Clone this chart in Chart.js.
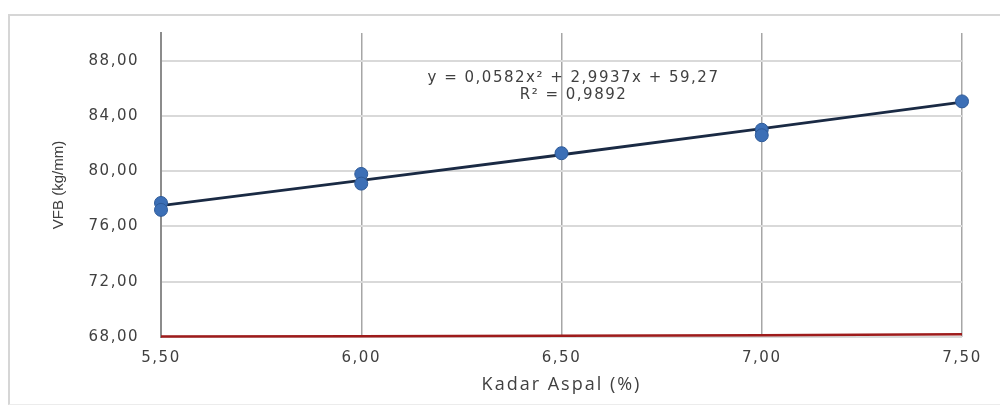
<!DOCTYPE html>
<html>
<head>
<meta charset="utf-8">
<script src="https://cdn.jsdelivr.net/npm/chart.js@4"></script>
<style>
  html, body { margin: 0; padding: 0; background: #fff; }
  #wrap { position: relative; width: 1000px; height: 408px; overflow: hidden; }
  #frame { position: absolute; left: 8px; top: 14px; width: 1010px; height: 388px;
           border-top: 2px solid #d6d6d6; border-left: 2px solid #d6d6d6; border-bottom: 1px solid #ececec; }
  canvas { position: absolute; left: 0; top: 0; }
</style>
</head>
<body>
<div id="wrap">
  <div id="frame"></div>
  <canvas id="c" width="1000" height="408"></canvas>
</div>
<script>
// ---- data ----
const kadarAspal = [5.5, 5.5, 6.0, 6.0, 6.5, 7.0, 7.0, 7.5];
const vfbValues  = [77.7, 77.2, 79.8, 79.1, 81.3, 83.0, 82.6, 85.05];
const trendX     = [5.5, 6.0, 6.5, 7.0, 7.5];
const trendY     = [77.5, 79.33, 81.19, 83.08, 85.0];
const limitX     = [5.5, 6.0, 6.5, 7.0, 7.5];
const limitY     = [68.03, 68.06, 68.09, 68.13, 68.2];
const yTicks     = [68, 72, 76, 80, 84, 88];
const xTicks     = [5.5, 6.0, 6.5, 7.0, 7.5];
const yTitle     = 'VFB (kg/mm)';
const xTitle     = 'Kadar Aspal (%)';
const equationLines = ['y = 0,0582x\u00B2 + 2,9937x + 59,27', 'R\u00B2 = 0,9892'];

const fmt = v => v.toFixed(2).replace('.', ',');

const spacingPlugin = {
  id: 'spacing',
  beforeDraw(chart) { chart.ctx.letterSpacing = '1.5px'; }
};

const textPlugin = {
  id: 'texts',
  afterDatasetsDraw(chart) {
    const { ctx, scales, chartArea } = chart;
    ctx.save();
    ctx.fillStyle = '#404040';
    ctx.textAlign = 'center';
    ctx.textBaseline = 'middle';
    // equation
    ctx.letterSpacing = '1.5px';
    ctx.font = '15px "DejaVu Sans"';
    const ex = scales.x.getPixelForValue(6.5) + 12;
    const ey = scales.y.getPixelForValue(88) + 17;
    ctx.fillText(equationLines[0], ex, ey);
    ctx.fillText(equationLines[1], ex, ey + 17);
    // x title
    ctx.letterSpacing = '2px';
    ctx.font = '18px "Open Sans"';
    ctx.fillText(xTitle, (chartArea.left + chartArea.right) / 2, 385);
    // y title
    ctx.letterSpacing = '0px';
    ctx.font = '15px "Liberation Sans"';
    ctx.translate(59, (chartArea.top + chartArea.bottom) / 2);
    ctx.rotate(-Math.PI / 2);
    ctx.fillText(yTitle, 0, 0);
    ctx.restore();
  }
};

new Chart(document.getElementById('c'), {
  type: 'scatter',
  data: {
    datasets: [
      {
        label: 'VFB',
        data: kadarAspal.map((x, i) => ({ x, y: vfbValues[i] })),
        backgroundColor: '#3c6fb6',
        borderColor: '#2e5a98',
        borderWidth: 1,
        pointRadius: 6.5,
        showLine: false,
        clip: false,
        order: 0
      },
      {
        label: 'Trend',
        data: trendX.map((x, i) => ({ x, y: trendY[i] })),
        borderColor: '#1a2a44',
        borderWidth: 2.8,
        pointRadius: 0,
        showLine: true,
        clip: false,
        order: 1
      },
      {
        label: 'Batas',
        data: limitX.map((x, i) => ({ x, y: limitY[i] })),
        borderColor: '#9e1b1b',
        borderWidth: 2.5,
        pointRadius: 0,
        showLine: true,
        clip: false,
        order: 2
      }
    ]
  },
  options: {
    responsive: false,
    animation: false,
    layout: { padding: { left: 0, right: 38, top: 33, bottom: 0 } },
    plugins: { legend: { display: false }, tooltip: { enabled: false } },
    scales: {
      x: {
        type: 'linear',
        min: 5.5, max: 7.5,
        afterFit(s) { s.height = 71; },
        afterBuildTicks(s) { s.ticks = xTicks.map(v => ({ value: v })); },
        ticks: {
          callback: v => fmt(v),
          color: '#404040',
          font: { family: 'DejaVu Sans', size: 15 },
          padding: 12,
          maxRotation: 0
        },
        grid: { color: '#a6a6a6', lineWidth: 1.5, drawTicks: false },
        border: { display: false },
        title: { display: false }
      },
      y: {
        type: 'linear',
        min: 68, max: 90,
        afterFit(s) { s.width = 161; },
        afterBuildTicks(s) { s.ticks = yTicks.map(v => ({ value: v })); },
        ticks: {
          callback: v => fmt(v),
          color: '#404040',
          font: { family: 'DejaVu Sans', size: 15 },
          padding: 22
        },
        grid: { color: '#d9d9d9', lineWidth: 2, drawTicks: false },
        border: { display: true, color: '#8c8c8c', width: 2 },
        title: { display: false }
      }
    }
  },
  plugins: [spacingPlugin, textPlugin]
});
</script>
</body>
</html>
